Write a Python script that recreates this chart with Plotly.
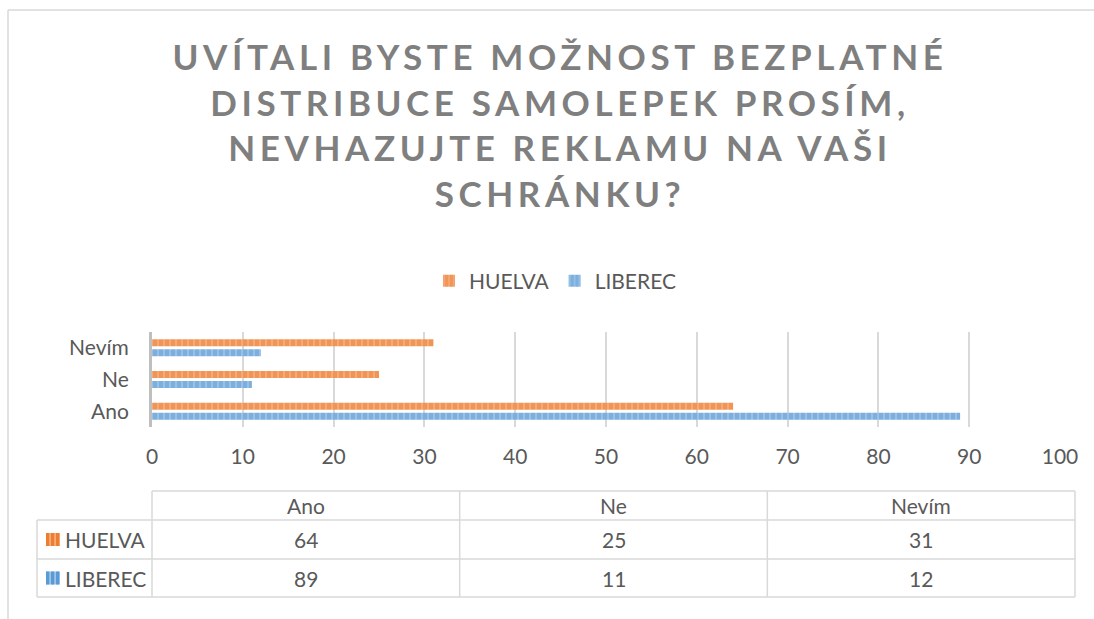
import plotly.graph_objects as go

# ---- data ----
categories = ["Ano", "Ne", "Nevím"]
series_names = ["HUELVA", "LIBEREC"]
huelva = [64, 25, 31]
liberec = [89, 11, 12]
x_tickvals = [0, 10, 20, 30, 40, 50, 60, 70, 80, 90, 100]
title_lines = ["UVÍTALI BYSTE MOŽNOST BEZPLATNÉ", "DISTRIBUCE SAMOLEPEK PROSÍM,",
               "NEVHAZUJTE REKLAMU NA VAŠI", "SCHRÁNKU?"]

# ---- style ----
FONT = "Lato"
TXT = "#595959"
ORANGE_DARK, ORANGE_LIGHT = "#ED7D31", "#F5AD7C"
BLUE_DARK, BLUE_LIGHT = "#5B9BD5", "#9DC3E6"
GRID = "#d9d9d9"
FS = 21
WID, HEI = 1094, 619
L, R, T, B = 152, 1060, 332, 427
PW, PH = R - L, B - T


def px(x):
    return (x - L) / PW


def py(y):
    return (B - y) / PH


fig = go.Figure()
fig.add_trace(go.Bar(
    y=categories, x=liberec, name=series_names[1], orientation="h", legendrank=2,
    marker=dict(color=BLUE_DARK, line=dict(width=0),
                pattern=dict(shape="|", size=6, solidity=0.72, fgcolor=BLUE_DARK, bgcolor=BLUE_LIGHT)),
))
fig.add_trace(go.Bar(
    y=categories, x=huelva, name=series_names[0], orientation="h", legendrank=1,
    marker=dict(color=ORANGE_DARK, line=dict(width=0),
                pattern=dict(shape="|", size=6, solidity=0.72, fgcolor=ORANGE_DARK, bgcolor=ORANGE_LIGHT)),
))

shapes = []
# outer chart border
shapes.append(dict(type="line", xref="paper", yref="paper", x0=px(8), x1=px(1200), y0=py(10), y1=py(10),
                   line=dict(color="#d9d9d9", width=1.5)))
shapes.append(dict(type="line", xref="paper", yref="paper", x0=px(8), x1=px(8), y0=py(10), y1=py(700),
                   line=dict(color="#d9d9d9", width=1.5)))

# data table geometry
tbl_left, tbl_right = 37, 1075
col_edges = [L + (tbl_right - L) * i / len(categories) for i in range(len(categories) + 1)]
row_edges = [491, 520, 559, 597]
lc = dict(color="#d9d9d9", width=1.5)
shapes.append(dict(type="line", xref="paper", yref="paper", x0=px(L), x1=px(tbl_right),
                   y0=py(row_edges[0]), y1=py(row_edges[0]), line=lc))
for ry in row_edges[1:]:
    shapes.append(dict(type="line", xref="paper", yref="paper", x0=px(tbl_left), x1=px(tbl_right),
                       y0=py(ry), y1=py(ry), line=lc))
for cx in col_edges:
    shapes.append(dict(type="line", xref="paper", yref="paper", x0=px(cx), x1=px(cx),
                       y0=py(row_edges[0]), y1=py(row_edges[-1]), line=lc))
shapes.append(dict(type="line", xref="paper", yref="paper", x0=px(tbl_left), x1=px(tbl_left),
                   y0=py(row_edges[1]), y1=py(row_edges[-1]), line=lc))

annotations = []
tfont = dict(family=FONT, size=FS, color=TXT)
for i, cat in enumerate(categories):
    cx = (col_edges[i] + col_edges[i + 1]) / 2
    annotations.append(dict(text=cat, xref="paper", yref="paper", x=px(cx), y=py((row_edges[0] + row_edges[1]) / 2),
                            showarrow=False, font=tfont, xanchor="center", yanchor="middle"))
rows = [(series_names[0], huelva, ORANGE_DARK, ORANGE_LIGHT), (series_names[1], liberec, BLUE_DARK, BLUE_LIGHT)]
for r, (name, vals, dark, light) in enumerate(rows):
    yc = (row_edges[r + 1] + row_edges[r + 2]) / 2
    # legend key in table
    shapes.append(dict(type="rect", xref="paper", yref="paper", x0=px(46), x1=px(60), y0=py(yc - 6.5), y1=py(yc + 6.5),
                       fillcolor=light, line=dict(width=0)))
    for sx in (46, 51, 56):
        shapes.append(dict(type="rect", xref="paper", yref="paper", x0=px(sx), x1=px(sx + 3.2),
                           y0=py(yc - 6.5), y1=py(yc + 6.5), fillcolor=dark, line=dict(width=0)))
    annotations.append(dict(text=name, xref="paper", yref="paper", x=px(63), y=py(yc), showarrow=False,
                            font=tfont, xanchor="left", yanchor="middle"))
    for i, v in enumerate(vals):
        cx = (col_edges[i] + col_edges[i + 1]) / 2
        annotations.append(dict(text=str(v), xref="paper", yref="paper", x=px(cx), y=py(yc), showarrow=False,
                                font=tfont, xanchor="center", yanchor="middle"))

fig.update_layout(
    width=WID, height=HEI,
    margin=dict(l=L, r=WID - R, t=T, b=HEI - B, autoexpand=False),
    paper_bgcolor="white", plot_bgcolor="white",
    font=dict(family=FONT, color=TXT),
    title=dict(text="<br>".join(title_lines), x=560 / WID, xanchor="center", xref="container",
               y=1 - 70 / HEI, yanchor="top", yref="container",
               font=dict(family=FONT, size=35, color="#7f7f7f", weight="bold")),
    barmode="group", bargap=0.37, bargroupgap=0.3,
    showlegend=True,
    legend=dict(orientation="h", xref="container", yref="container", x=555 / WID, xanchor="center",
                y=1 - 281 / HEI, yanchor="middle", font=dict(family=FONT, size=FS, color=TXT),
                itemwidth=30, bgcolor="rgba(0,0,0,0)"),
    xaxis=dict(range=[0, 100], tickvals=x_tickvals, showgrid=True, gridcolor=GRID, gridwidth=1.5,
               zeroline=False, showline=False, ticks="outside", ticklen=11, tickcolor="rgba(0,0,0,0)",
               tickfont=dict(family=FONT, size=FS, color=TXT), fixedrange=True),
    yaxis=dict(showline=True, linecolor="#bfbfbf", linewidth=3, showgrid=False, ticks="outside", ticklen=16,
               tickcolor="rgba(0,0,0,0)", tickfont=dict(family=FONT, size=FS, color=TXT), fixedrange=True),
    shapes=shapes, annotations=annotations,
)

post = ("var s=document.createElement('style');"
        "s.textContent='body{margin:0;padding:0;} .gtitle{letter-spacing:4.6px;}';"
        "document.head.appendChild(s);")
fig.write_html("out.html", post_script=post, config={"displayModeBar": False})
